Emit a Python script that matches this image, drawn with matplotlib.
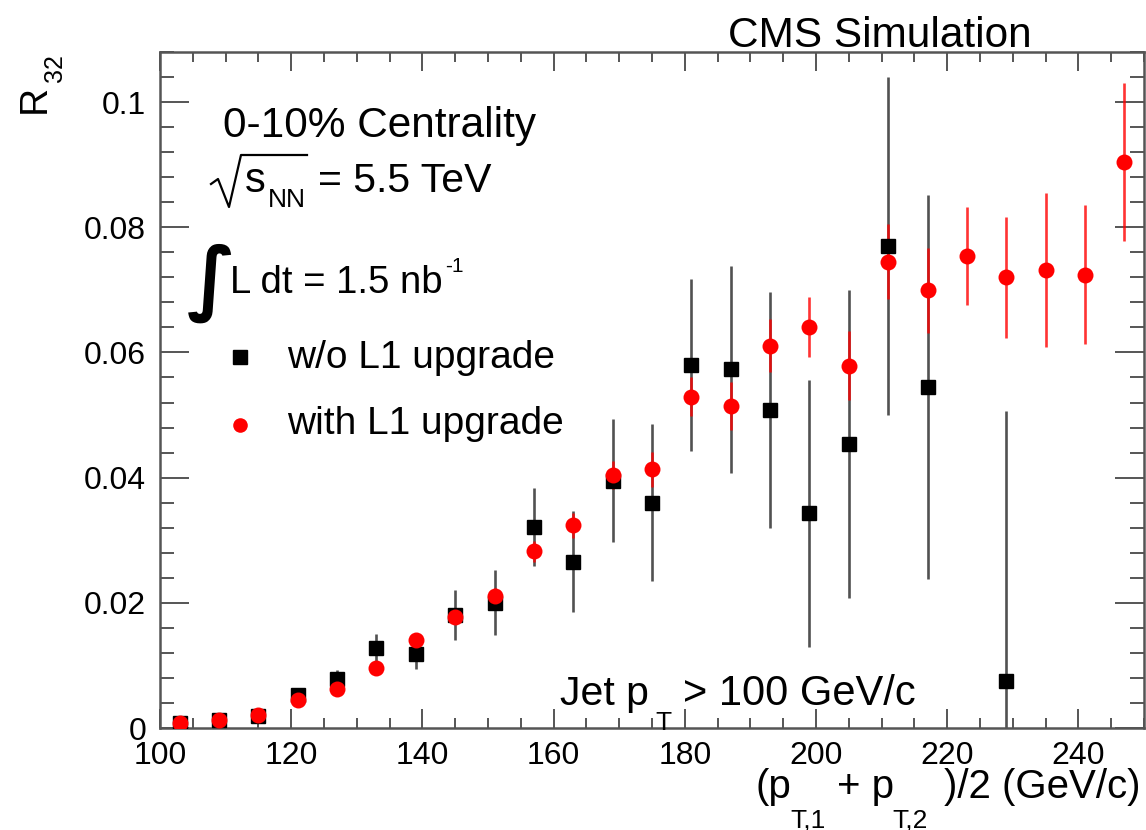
import matplotlib
matplotlib.use("Agg")
import matplotlib.pyplot as plt
from matplotlib.lines import Line2D
from matplotlib.ticker import MultipleLocator, FixedLocator

plt.rcParams['font.family'] = ['Liberation Sans', 'DejaVu Sans']

# bin centres (GeV/c)
x_wo = [103, 109, 115, 121, 127, 133, 139, 145, 151, 157, 163, 169, 175,
        181, 187, 193, 199, 205, 211, 217, 229]
r32_wo = [0.0008, 0.0012, 0.0019, 0.0053, 0.0078, 0.0128, 0.0118, 0.0181,
          0.0200, 0.0321, 0.0266, 0.0395, 0.0360, 0.0580, 0.0573, 0.0508,
          0.0343, 0.0454, 0.0770, 0.0545, 0.0075]
err_wo = [0.0002, 0.0003, 0.0005, 0.0008, 0.0015, 0.0022, 0.0024, 0.0040,
          0.0052, 0.0062, 0.0080, 0.0098, 0.0125, 0.0138, 0.0165, 0.0188,
          0.0213, 0.0246, 0.0270, 0.0307, 0.0431]

x_with = [103, 109, 115, 121, 127, 133, 139, 145, 151, 157, 163, 169, 175,
          181, 187, 193, 199, 205, 211, 217, 223, 229, 235, 241, 247]
r32_with = [0.0008, 0.0012, 0.0021, 0.0044, 0.0062, 0.0096, 0.0140, 0.0177,
            0.0211, 0.0282, 0.0324, 0.0404, 0.0413, 0.0529, 0.0514, 0.0611,
            0.0641, 0.0579, 0.0745, 0.0699, 0.0754, 0.0720, 0.0731, 0.0724,
            0.0904]
err_with = [0.0001, 0.0002, 0.0003, 0.0004, 0.0006, 0.0007, 0.0009, 0.0011,
            0.0013, 0.0017, 0.0020, 0.0022, 0.0028, 0.0031, 0.0038, 0.0042,
            0.0048, 0.0055, 0.0060, 0.0068, 0.0078, 0.0097, 0.0123, 0.0111,
            0.0126]

W, H = 1146, 830
fig = plt.figure(figsize=(W / 100, H / 100), dpi=100)
ax = fig.add_axes([160 / W, 1 - 728 / H, (1144 - 160) / W, (728 - 52) / H])
renderer = fig.canvas.get_renderer()


def pix(x, y):
    # pixel (from top-left) -> figure fraction
    return x / W, 1 - y / H


def txt(x, ybase, s, size, ha='left', **kw):
    t = fig.text(*pix(x, ybase), s, fontsize=size, ha=ha, va='baseline', **kw)
    return t.get_window_extent(renderer).x1  # right edge in pixels


# error bars first, then markers (red on top)
ax.errorbar(x_wo, r32_wo, yerr=err_wo, fmt='none', ecolor='#333333',
            elinewidth=1.9, capsize=0, alpha=0.85, zorder=2)
ax.errorbar(x_with, r32_with, yerr=err_with, fmt='none', ecolor='red',
            elinewidth=1.9, capsize=0, alpha=0.8, zorder=3)
ax.plot(x_wo, r32_wo, 's', color='black', markersize=10.5, zorder=4)
ax.plot(x_with, r32_with, 'o', color='red', markersize=11.5,
        markeredgewidth=0, zorder=5)

ax.set_xlim(100, 250)
ax.set_ylim(0, 0.108)

ax.xaxis.set_major_locator(FixedLocator([100, 120, 140, 160, 180, 200, 220, 240]))
ax.xaxis.set_minor_locator(MultipleLocator(5))
ax.yaxis.set_major_locator(FixedLocator([0, 0.02, 0.04, 0.06, 0.08, 0.1]))
ax.yaxis.set_minor_locator(MultipleLocator(0.004))
ax.set_yticklabels(['0', '0.02', '0.04', '0.06', '0.08', '0.1'])

ax.tick_params(which='both', direction='in', top=True, right=True,
               color='#555555', labelsize=23, width=1.4)
ax.tick_params(axis='x', which='major', length=14, pad=9)
ax.tick_params(axis='x', which='minor', length=7)
ax.tick_params(axis='y', which='major', length=21, pad=10)
ax.tick_params(axis='y', which='minor', length=10)
for s in ax.spines.values():
    s.set_color('#555555')
    s.set_linewidth(1.8)

# x axis title, ROOT style low subscripts
txt(755, 798, '(p', 29)
txt(790, 827, 'T,1', 19)
txt(837, 798, '+ p', 29)
txt(892, 827, 'T,2', 19)
txt(1140, 798, ')/2 (GeV/c)', 29, ha='right')

# y axis title (rotated)
fig.text(*pix(45, 113), 'R', fontsize=28, rotation=90, rotation_mode='anchor',
         ha='left', va='baseline')
fig.text(*pix(62, 82), '32', fontsize=18, rotation=90, rotation_mode='anchor',
         ha='left', va='baseline')

txt(728, 47, 'CMS Simulation', 30.5)

# annotations
txt(223, 137, '0-10% Centrality', 30.5)

# sqrt(s_NN) with drawn radical
rad = [(211, 184), (218, 179), (229, 207), (241, 155), (307, 155)]
fig.add_artist(Line2D([pix(*p)[0] for p in rad], [pix(*p)[1] for p in rad],
                      transform=fig.transFigure, color='black', lw=1.6))
txt(245, 192, 's', 30)
txt(268, 207, 'NN', 19)
txt(318, 192, '= 5.5 TeV', 29.5)

fig.text(*pix(211, 283), '\u222b', fontsize=58, ha='center', va='center',
         family=['DejaVu Sans'], fontweight='bold')
x_end = txt(230, 293, 'L dt = 1.5 nb', 27.5)
txt(x_end + 3, 272, '-1', 15)

# legend
fig.add_artist(Line2D([pix(240, 357)[0]], [pix(240, 357)[1]], marker='s',
                      markersize=10, color='black', linestyle='none',
                      transform=fig.transFigure))
txt(287, 368, 'w/o L1 upgrade', 28)
fig.add_artist(Line2D([pix(240, 425)[0]], [pix(240, 425)[1]], marker='o',
                      markersize=10.5, color='red', markeredgewidth=0,
                      linestyle='none', transform=fig.transFigure))
txt(287, 434, 'with L1 upgrade', 28)

txt(560, 705, 'Jet p', 29.5)
txt(655, 730, 'T', 19)
txt(683, 705, '> 100 GeV/c', 30)

fig.savefig('out.png', dpi=100)
